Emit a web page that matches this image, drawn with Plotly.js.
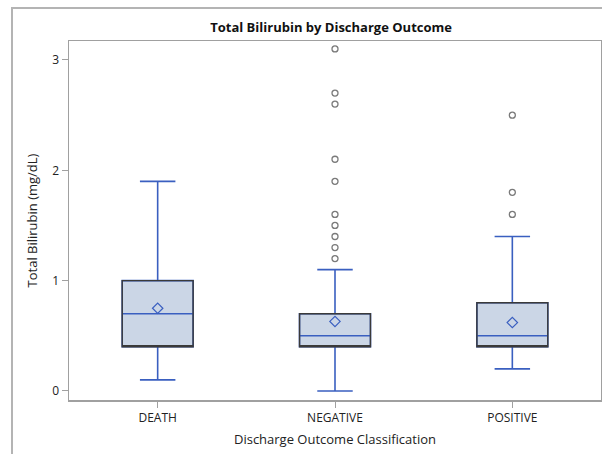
<!DOCTYPE html>
<html>
<head>
<meta charset="utf-8">
<script src="https://cdn.plot.ly/plotly-3.0.1.min.js"></script>
<style>
html,body{margin:0;padding:0;background:#fff;}
#chart{width:602px;height:454px;position:relative;}
#frame{position:absolute;left:11px;top:7px;width:600px;height:460px;border-left:2px solid #b4b4b4;border-top:2px solid #b4b4b4;pointer-events:none;}
</style>
</head>
<body>
<div id="chart"></div>
<div id="frame"></div>
<script>
const categories = ["DEATH", "NEGATIVE", "POSITIVE"];
const lowerWhisker = [0.1, 0.0, 0.2];
const q1 = [0.4, 0.4, 0.4];
const median = [0.7, 0.5, 0.5];
const q3 = [1.0, 0.7, 0.8];
const upperWhisker = [1.9, 1.1, 1.4];
const means = [0.75, 0.63, 0.62];
const outlierCategory = ["NEGATIVE","NEGATIVE","NEGATIVE","NEGATIVE","NEGATIVE","NEGATIVE","NEGATIVE","NEGATIVE","NEGATIVE","NEGATIVE","POSITIVE","POSITIVE","POSITIVE"];
const outlierValue = [1.2, 1.3, 1.4, 1.5, 1.6, 1.9, 2.1, 2.6, 2.7, 3.1, 1.6, 1.8, 2.5];
const yTicks = [0, 1, 2, 3];

const blue = "#3a5fc0";
const traces = [
  {
    type: "box", x: categories, q1: q1, median: median, q3: q3,
    lowerfence: lowerWhisker, upperfence: upperWhisker,
    width: 0.4, whiskerwidth: 0.5,
    fillcolor: "#cbd6e6", line: {color: blue, width: 1.6},
    boxpoints: false, hoverinfo: "skip", showlegend: false
  },
  {
    type: "box", x: categories, q1: q1, median: q1, q3: q3,
    lowerfence: q1, upperfence: q3,
    width: 0.4, whiskerwidth: 0,
    fillcolor: "rgba(0,0,0,0)", line: {color: "#3a3a3a", width: 1.4},
    boxpoints: false, hoverinfo: "skip", showlegend: false
  },
  {
    type: "scatter", mode: "markers", x: categories, y: means,
    marker: {symbol: "diamond-open", size: 8, color: blue, line: {width: 1.2, color: blue}},
    showlegend: false, hoverinfo: "skip"
  },
  {
    type: "scatter", mode: "markers", x: outlierCategory, y: outlierValue,
    marker: {symbol: "circle-open", size: 6, color: "#7a7a7a", line: {width: 1.3, color: "#7a7a7a"}},
    showlegend: false, hoverinfo: "skip"
  }
];

const layout = {
  width: 602, height: 454,
  margin: {l: 69, r: 1, t: 41, b: 54},
  paper_bgcolor: "#fff", plot_bgcolor: "#fff",
  boxmode: "overlay",
  font: {family: "Open Sans, Liberation Sans, sans-serif", color: "#333", size: 12},
  title: {text: "<b>Total Bilirubin by Discharge Outcome</b>", font: {size: 13, color: "#111", family: "Open Sans, sans-serif"}, x: 0.55, xanchor: "center", y: 0.94, yanchor: "middle", yref: "container"},
  xaxis: {
    type: "category", categoryorder: "array", categoryarray: categories,
    range: [-0.5, 2.5], showgrid: false, zeroline: false,
    showline: true, linecolor: "#a0a0a0", linewidth: 1.5, mirror: true,
    ticks: "outside", ticklen: 6, tickcolor: "#a0a0a0",
    tickfont: {size: 12, color: "#222"},
    title: {text: "Discharge Outcome Classification", font: {size: 13, color: "#222"}, standoff: 10}
  },
  yaxis: {
    range: [-0.082, 3.172], tickvals: yTicks, ticktext: yTicks.map(String),
    showgrid: false, zeroline: false,
    showline: true, linecolor: "#a0a0a0", linewidth: 1.5, mirror: true,
    ticks: "outside", ticklen: 6, tickcolor: "#a0a0a0",
    tickfont: {size: 12, color: "#222"},
    title: {text: "Total Bilirubin (mg/dL)", font: {size: 13, color: "#222"}, standoff: 11}
  }
};

Plotly.newPlot("chart", traces, layout, {displayModeBar: false, staticPlot: true});
</script>
</body>
</html>
